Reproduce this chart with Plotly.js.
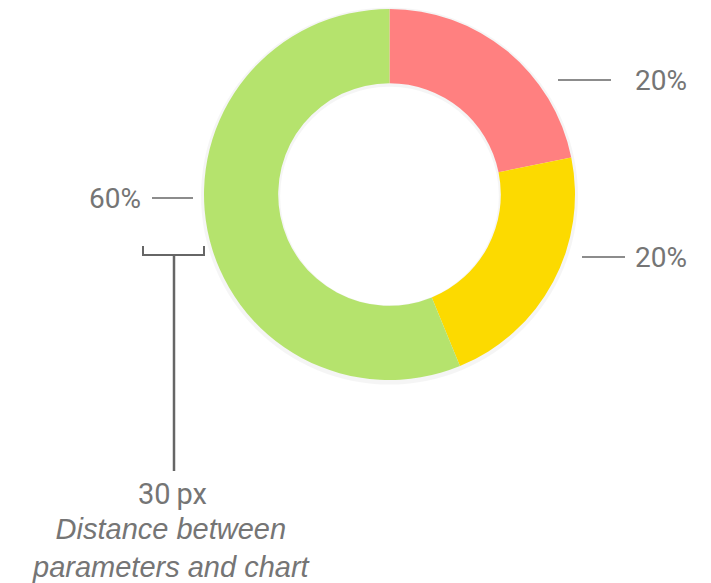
<!DOCTYPE html>
<html><head><meta charset="utf-8">
<script src="https://cdn.plot.ly/plotly-3.0.1.min.js"></script>
<style>html,body{margin:0;padding:0;background:#fff}#chart{width:711px;height:583px}</style>
</head><body><div id="chart"></div>
<script>
const categories = ['Red', 'Yellow', 'Green'];
const values = [21.8, 22.0, 56.2];
const percentLabels = ['20%', '20%', '60%'];
const colors = ['#FF8080', '#FCDA00', '#B5E36D'];
const distanceLabel = '30\u2009px';
const distanceNote = ['Distance between', 'parameters and chart'];

const gray = '#757575';
const lineGray = '#666666';

const pie = {
  type: 'pie', labels: categories, values: values, sort: false,
  direction: 'clockwise', rotation: 0, hole: 0.6,
  marker: {colors: colors, line: {width: 0}},
  textinfo: 'none', hoverinfo: 'none', showlegend: false,
  domain: {x: [204/711, 575/711], y: [(583-380)/583, (583-9)/583]}
};
const shadow = {
  type: 'pie', labels: ['s'], values: [1], hole: 0.58, sort: false,
  marker: {colors: ['rgba(0,0,0,0.04)'], line: {width: 0}},
  textinfo: 'none', hoverinfo: 'none', showlegend: false,
  domain: {x: [201/711, 578/711], y: [(583-385)/583, (583-7)/583]}
};

const labelPos = [{x: 633, y: 80, anchor: 'left', l: [558, 611]},
                  {x: 633, y: 257, anchor: 'left', l: [582, 625]},
                  {x: 143, y: 198, anchor: 'right', l: [152, 193]}];

const shapes = [];
const annotations = [];
percentLabels.forEach((t, i) => {
  const p = labelPos[i];
  shapes.push({type: 'line', xref: 'x', yref: 'y', x0: p.l[0], x1: p.l[1], y0: p.y, y1: p.y, line: {color: lineGray, width: 1.5}});
  annotations.push({xref: 'x', yref: 'y', x: p.x, y: p.y, text: t, showarrow: false, xanchor: p.anchor, yanchor: 'middle', font: {family: 'Roboto', size: 28, color: gray}});
});
shapes.push({type: 'path', xref: 'x', yref: 'y', path: 'M 143 246 L 143 255 L 204 255 L 204 246', line: {color: lineGray, width: 2}});
shapes.push({type: 'line', xref: 'x', yref: 'y', x0: 174, x1: 174, y0: 255, y1: 471, line: {color: lineGray, width: 2.5}});
annotations.push({xref: 'x', yref: 'y', x: 172, y: 494, text: distanceLabel, showarrow: false, xanchor: 'center', yanchor: 'middle', font: {family: 'Roboto', size: 29, color: gray}});
annotations.push({xref: 'x', yref: 'y', x: 171, y: 548, text: '<i>' + distanceNote.join('<br>') + '</i>', showarrow: false, xanchor: 'center', yanchor: 'middle', align: 'center', font: {family: 'Liberation Sans, Arial', size: 29, color: gray}});

const layout = {
  width: 711, height: 583, margin: {l: 0, r: 0, t: 0, b: 0},
  paper_bgcolor: '#fff', plot_bgcolor: 'rgba(0,0,0,0)',
  xaxis: {range: [0, 711], visible: false, fixedrange: true},
  yaxis: {range: [583, 0], visible: false, fixedrange: true},
  shapes: shapes, annotations: annotations
};
Plotly.newPlot('chart', [shadow, pie], layout, {staticPlot: true, displayModeBar: false});
</script></body></html>
